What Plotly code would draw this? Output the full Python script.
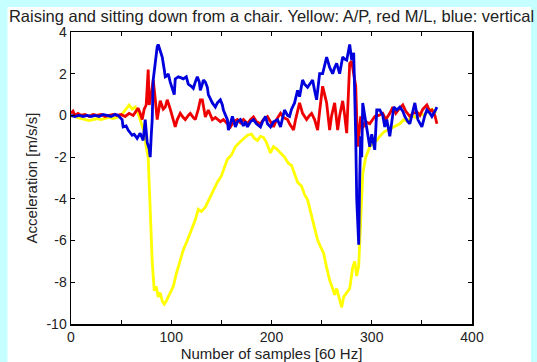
import plotly.graph_objects as go

# ---- data ----
yellow_x = [0, 3, 6, 10, 14, 18, 22, 26, 30, 34, 38, 42, 46, 50, 53, 56, 58, 61, 64, 67, 70, 73, 75, 77, 79, 81, 83, 85, 87, 89, 91, 93, 95, 98, 102, 105, 108, 112, 116, 120, 124, 127, 130, 134, 138, 142, 146, 150, 153, 156, 160, 164, 168, 172, 176, 180, 183, 186, 189, 192, 195, 199, 202, 205, 209, 213, 217, 220, 223, 226, 230, 233, 236, 239, 242, 246, 249, 252, 255, 258, 261, 263, 265, 267, 270, 272, 275, 278, 281, 283, 285, 287, 289, 291, 294, 298, 302, 305, 308, 312, 316, 320, 324, 328, 332, 336, 340, 344, 348, 352, 356, 360, 364]
yellow_y = [-0.05, 0.0, -0.1, -0.15, -0.2, -0.25, -0.2, -0.15, -0.2, -0.15, -0.1, -0.15, -0.1, 0.0, 0.2, 0.35, 0.5, 0.3, 0.4, 0.1, -0.3, -0.8, -1.5, -2.0, -4.5, -7.0, -8.4, -8.2, -8.7, -8.5, -8.9, -9.05, -8.9, -8.6, -8.2, -7.6, -7.1, -6.45, -6.0, -5.5, -5.0, -4.5, -4.6, -4.4, -4.0, -3.6, -3.2, -2.9, -2.5, -2.1, -1.9, -1.5, -1.3, -1.1, -0.95, -0.9, -1.1, -1.2, -1.0, -1.05, -1.3, -1.8, -1.5, -1.6, -1.8, -2.0, -2.3, -2.4, -2.8, -3.2, -3.4, -3.8, -4.05, -4.6, -5.2, -5.98, -6.3, -6.6, -7.3, -7.9, -8.3, -8.6, -8.3, -8.7, -9.2, -8.7, -8.5, -8.3, -7.3, -7.0, -7.7, -7.2, -5.0, -2.8, -2.0, -1.5, -1.3, -1.2, -1.0, -0.8, -0.7, -0.6, -0.5, -0.4, -0.2, -0.3, 0.0, -0.1, 0.1, 0.0, 0.2, 0.3, 0.1]

red_x = [0, 2, 4, 7, 10, 14, 18, 22, 26, 30, 34, 38, 42, 46, 50, 54, 58, 62, 65, 67, 69, 71, 73, 75, 77, 78, 80, 82, 84, 86, 89, 92, 94, 96, 99, 101, 104, 106, 109, 112, 114, 117, 119, 122, 124, 127, 129, 131, 134, 137, 139, 141, 144, 146, 149, 152, 155, 159, 162, 166, 169, 172, 176, 179, 182, 185, 189, 192, 196, 199, 202, 205, 209, 212, 216, 218, 222, 224, 226, 228, 231, 235, 238, 240, 243, 246, 248, 251, 253, 255, 258, 260, 263, 266, 268, 271, 273, 275, 278, 280, 282, 284, 286, 288, 289, 291, 294, 298, 303, 307, 311, 314, 318, 321, 324, 327, 331, 334, 338, 341, 345, 348, 351, 355, 358, 360, 363, 365]
red_y = [0.1, 0.2, 0.0, 0.1, 0.0, 0.05, -0.05, 0.05, 0.0, 0.05, -0.05, 0.0, 0.05, 0.0, 0.05, -0.05, 0.1, 0.0, 0.2, 0.35, 0.1, -0.2, 0.3, 0.5, 2.2, 0.5, 1.0, 1.7, 0.8, -0.2, 0.7, 0.3, 0.4, 0.75, 0.3, -0.1, -0.55, -0.2, 0.1, -0.1, -0.2, 0.0, 0.1, -0.1, -0.2, 0.3, 0.75, 0.75, -0.07, 0.26, 0.0, -0.2, -0.1, -0.2, -0.3, -0.2, -0.35, -0.55, -0.3, -0.2, -0.35, -0.2, -0.4, -0.2, -0.07, -0.3, -0.4, -0.2, -0.05, -0.3, -0.55, -0.2, 0.1, -0.1, -0.2, -0.4, -0.7, -0.2, 0.26, 0.6, 0.1, -0.2, 0.0, 0.1, -0.2, -0.7, 0.2, 1.4, 1.0, 0.6, -0.7, 0.0, 0.6, -0.7, 0.0, 0.7, 0.0, -0.85, 2.5, 2.6, 2.0, 1.4, -1.5, -0.5, -0.05, -0.6, -0.3, -0.4, -0.05, 0.0, 0.1, -0.2, 0.1, 0.4, 0.1, 0.3, 0.5, 0.2, -0.05, 0.1, 0.17, 0.0, 0.3, 0.5, 0.2, 0.26, 0.0, -0.4]

blue_x = [0, 4, 8, 12, 16, 20, 24, 28, 32, 36, 40, 44, 47, 49, 51, 52, 55, 57, 59, 61, 63, 66, 69, 72, 74, 76, 78, 79, 80, 81, 82, 84, 86, 87, 89, 91, 93, 94, 96, 97, 99, 101, 103, 104, 107, 110, 112, 115, 117, 120, 122, 124, 126, 128, 129, 131, 132, 134, 136, 137, 139, 141, 144, 146, 149, 151, 152, 154, 156, 157, 159, 161, 164, 166, 169, 172, 174, 176, 179, 182, 185, 189, 191, 194, 196, 199, 202, 206, 209, 211, 213, 216, 218, 220, 223, 226, 228, 231, 233, 236, 238, 241, 243, 245, 248, 251, 253, 255, 258, 261, 263, 265, 268, 271, 273, 275, 278, 280, 282, 283, 284, 285, 286, 287, 288, 289, 290, 291, 293, 295, 298, 300, 303, 305, 308, 311, 313, 315, 318, 320, 322, 325, 328, 331, 333, 336, 338, 341, 343, 346, 348, 350, 353, 355, 358, 360, 363, 365]
blue_y = [0.0, -0.05, 0.0, -0.05, 0.0, -0.05, 0.0, -0.05, 0.05, 0.0, -0.05, 0.05, 0.0, -0.1, -0.2, -0.55, -0.5, -0.7, -0.8, -0.95, -0.9, -1.1, -0.85, -1.2, -0.2, -1.3, -1.6, -2.0, -1.0, -0.2, 1.7, 2.5, 3.3, 3.4, 3.1, 2.8, 2.2, 1.85, 1.9, 2.0, 1.6, 1.35, 1.0, 1.75, 1.85, 1.8, 1.75, 1.85, 1.5, 1.4, 1.3, 1.6, 1.85, 1.6, 1.2, 1.5, 1.7, 1.6, 1.35, 1.0, 0.75, 0.6, 0.4, 0.6, 0.75, 0.5, 0.26, 0.0, -0.2, -0.7, -0.3, -0.05, -0.55, -0.3, -0.2, -0.5, -0.3, -0.55, -0.3, -0.2, -0.4, -0.55, -0.3, -0.05, -0.4, -0.55, -0.3, -0.2, -0.55, -0.2, 0.26, 0.0, -0.05, 0.3, 0.6, 1.2, 0.9, 1.7, 1.5, 1.35, 1.5, 1.7, 1.2, 0.75, 2.0, 2.0, 2.4, 2.8, 2.3, 2.0, 2.3, 2.5, 2.0, 2.8, 2.7, 2.65, 3.4, 2.65, 3.0, 1.35, -1.0, -4.0, -5.5, -6.2, -3.0, -1.0, -2.0, 0.6, 0.0, -0.55, -1.5, -0.9, -1.65, 0.26, 0.26, 0.0, -0.55, -0.2, -1.0, -0.3, 0.4, 0.26, 0.4, 0.2, -0.05, -0.3, -0.4, 0.2, 0.6, -0.2, -0.4, -0.55, 0.0, 0.26, 0.1, -0.05, 0.2, 0.4]

x_tick_vals = [0, 50, 100, 150, 200, 250, 300, 350, 400]
x_tick_text = ["0", "", "100", "", "200", "", "300", "", "400"]
y_tick_vals = [-10, -8, -6, -4, -2, 0, 2, 4]
y_tick_text = ["-10", "-8", "-6", "-4", "-2", "0", "2", "4"]

title_text = "Raising and sitting down from a chair. Yellow: A/P, red M/L, blue: vertical"
x_title = "Number of samples [60 Hz]"
y_title = "Acceleration [m/s/s]"

# ---- figure ----
fig = go.Figure()
for xs, ys, col in [(yellow_x, yellow_y, "#ffff00"),
                    (red_x, red_y, "#ee0000"),
                    (blue_x, blue_y, "#0000dd")]:
    fig.add_trace(go.Scatter(x=xs, y=ys, mode="lines",
                             line=dict(color=col, width=2.8),
                             showlegend=False, hoverinfo="skip"))

font_family = "Liberation Sans, Arial, sans-serif"
axis_common = dict(showline=True, linecolor="black", linewidth=1.5, mirror="ticks",
                   ticks="inside", ticklen=4, tickcolor="black", showgrid=False,
                   zeroline=False, automargin=False,
                   tickfont=dict(size=14, color="#222", family=font_family))

fig.update_layout(
    width=537, height=362,
    margin=dict(l=71, r=65, t=32, b=38),
    paper_bgcolor="#c6ffff",
    plot_bgcolor="white",
    title=dict(text=title_text, x=0.5, xref="paper", y=0.956, yanchor="middle",
               font=dict(size=16.5, color="#222", family=font_family)),
    xaxis=dict(range=[0, 400], tickvals=x_tick_vals, ticktext=x_tick_text,
               title=dict(text=x_title, standoff=0,
                          font=dict(size=15, color="#222", family=font_family)),
               **axis_common),
    yaxis=dict(range=[-10, 4], tickvals=y_tick_vals, ticktext=y_tick_text,
               title=dict(text=y_title, standoff=5,
                          font=dict(size=15, color="#222", family=font_family)),
               **axis_common),
    shapes=[dict(type="rect", xref="paper", yref="paper",
                 x0=-0.1586, x1=1.147, y0=-0.20, y1=1.0856,
                 fillcolor="white", line=dict(width=0), layer="below")],
)

fig.write_html(
    "out.html",
    config={"displayModeBar": False, "staticPlot": True},
    post_script="document.body.style.margin='0';document.body.style.overflow='hidden';"
                "document.body.style.background='#c6ffff';",
)
